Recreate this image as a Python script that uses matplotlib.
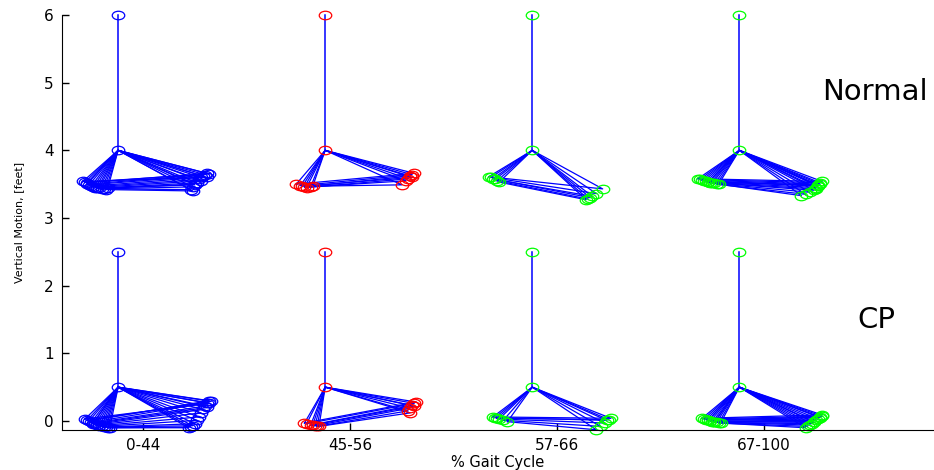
import numpy as np
import matplotlib.pyplot as plt
from matplotlib.path import Path
from matplotlib.transforms import Affine2D

# groups along the gait cycle
phases = ['0-44', '45-56', '57-66', '67-100']
phase_colors = ['#0000ff', '#ff0000', '#00ff00', '#00ff00']

# stick figure: head / hip heights
normal_head, normal_hip = 6.0, 4.0
cp_head, cp_hip = 2.5, 0.5
hip_dx = -0.12

# Normal: foot positions per frame (x offset from hip, height)
n1_lf_dx = [-0.17, -0.16, -0.15, -0.15, -0.14, -0.13, -0.12, -0.11, -0.10, -0.09, -0.08, -0.07, -0.06, -0.05]
n1_lf_y = [3.54, 3.53, 3.52, 3.50, 3.49, 3.47, 3.46, 3.45, 3.44, 3.44, 3.43, 3.43, 3.42, 3.44]
n1_rf_dx = [0.43, 0.44, 0.43, 0.42, 0.41, 0.40, 0.39, 0.40, 0.38, 0.37, 0.36, 0.35, 0.36, 0.37]
n1_rf_y = [3.60, 3.65, 3.66, 3.64, 3.62, 3.60, 3.57, 3.55, 3.52, 3.49, 3.46, 3.42, 3.40, 3.50]

n2_lf_dx = [-0.14, -0.12, -0.10, -0.09, -0.07, -0.06, -0.11]
n2_lf_y = [3.50, 3.48, 3.46, 3.45, 3.46, 3.47, 3.47]
n2_rf_dx = [0.43, 0.42, 0.41, 0.40, 0.39, 0.37, 0.42]
n2_rf_y = [3.66, 3.64, 3.62, 3.58, 3.55, 3.49, 3.60]

n3_lf_dx = [-0.21, -0.20, -0.19, -0.17, -0.16, -0.18]
n3_lf_y = [3.61, 3.60, 3.58, 3.55, 3.53, 3.57]
n3_rf_dx = [0.34, 0.31, 0.28, 0.27, 0.26, 0.29]
n3_rf_y = [3.43, 3.36, 3.30, 3.28, 3.27, 3.32]

n4_lf_dx = [-0.20, -0.19, -0.18, -0.17, -0.16, -0.15, -0.14, -0.13, -0.12, -0.11, -0.10, -0.15]
n4_lf_y = [3.58, 3.57, 3.56, 3.55, 3.54, 3.53, 3.52, 3.52, 3.51, 3.50, 3.50, 3.53]
n4_rf_dx = [0.40, 0.39, 0.39, 0.38, 0.38, 0.37, 0.37, 0.36, 0.34, 0.32, 0.30, 0.38]
n4_rf_y = [3.54, 3.52, 3.50, 3.48, 3.47, 3.45, 3.43, 3.41, 3.38, 3.35, 3.33, 3.49]

# CP
c1_lf_dx = [-0.16, -0.15, -0.14, -0.13, -0.12, -0.11, -0.10, -0.09, -0.08, -0.07, -0.06, -0.05, -0.04, -0.12]
c1_lf_y = [0.03, 0.01, 0.00, -0.02, -0.03, -0.05, -0.06, -0.07, -0.08, -0.09, -0.09, -0.10, -0.10, -0.04]
c1_rf_dx = [0.44, 0.45, 0.44, 0.43, 0.42, 0.41, 0.40, 0.39, 0.38, 0.37, 0.36, 0.35, 0.34, 0.43]
c1_rf_y = [0.26, 0.29, 0.30, 0.27, 0.22, 0.17, 0.12, 0.06, 0.01, -0.04, -0.07, -0.09, -0.10, 0.20]

c2_lf_dx = [-0.10, -0.09, -0.07, -0.05, -0.04, -0.03, -0.06]
c2_lf_y = [-0.03, -0.04, -0.06, -0.07, -0.08, -0.08, -0.06]
c2_rf_dx = [0.44, 0.43, 0.42, 0.41, 0.40, 0.41, 0.43]
c2_rf_y = [0.28, 0.26, 0.23, 0.19, 0.15, 0.12, 0.22]

c3_lf_dx = [-0.19, -0.18, -0.16, -0.14, -0.12, -0.17]
c3_lf_y = [0.06, 0.05, 0.03, 0.01, -0.01, 0.04]
c3_rf_dx = [0.38, 0.36, 0.35, 0.33, 0.31, 0.37]
c3_rf_y = [0.04, 0.01, -0.03, -0.08, -0.13, 0.02]

c4_lf_dx = [-0.18, -0.17, -0.16, -0.15, -0.14, -0.13, -0.12, -0.11, -0.10, -0.09, -0.15, -0.12]
c4_lf_y = [0.04, 0.03, 0.02, 0.01, 0.00, -0.01, -0.02, -0.02, -0.03, -0.03, 0.01, -0.01]
c4_rf_dx = [0.40, 0.40, 0.39, 0.38, 0.37, 0.36, 0.35, 0.34, 0.33, 0.32, 0.39, 0.36]
c4_rf_y = [0.09, 0.07, 0.05, 0.03, 0.01, -0.02, -0.04, -0.06, -0.08, -0.10, 0.06, -0.01]

normal_feet = [(n1_lf_dx, n1_lf_y, n1_rf_dx, n1_rf_y),
               (n2_lf_dx, n2_lf_y, n2_rf_dx, n2_rf_y),
               (n3_lf_dx, n3_lf_y, n3_rf_dx, n3_rf_y),
               (n4_lf_dx, n4_lf_y, n4_rf_dx, n4_rf_y)]
cp_feet = [(c1_lf_dx, c1_lf_y, c1_rf_dx, c1_rf_y),
           (c2_lf_dx, c2_lf_y, c2_rf_dx, c2_rf_y),
           (c3_lf_dx, c3_lf_y, c3_rf_dx, c3_rf_y),
           (c4_lf_dx, c4_lf_y, c4_rf_dx, c4_rf_y)]

# wide ellipse marker (the original is stretched sideways)
ellipse = Path.unit_circle().transformed(Affine2D().scale(1.0, 0.68))
line_blue = '#0000ff'

fig = plt.figure(figsize=(9.34, 4.70), dpi=100)
ax = fig.add_axes([62 / 934, 40 / 470, 872 / 934, 415 / 470])


def draw_figure(gx, head_y, hip_y, feet, mc):
    lf_dx, lf_y, rf_dx, rf_y = feet
    hx = gx + hip_dx
    ax.plot([hx, hx], [head_y, hip_y], color=line_blue, lw=1.1, clip_on=False)
    for a, b, c, d in zip(lf_dx, lf_y, rf_dx, rf_y):
        xs = [hx + a, hx, hx + c, hx + a]
        ys = [b, hip_y, d, b]
        ax.plot(xs, ys, color=line_blue, lw=0.9, clip_on=False)
    mk = dict(marker=ellipse, ms=9, ls='none', mfc='none', mec=mc, mew=0.9, clip_on=False)
    ax.plot([hx + v for v in lf_dx], lf_y, **mk)
    ax.plot([hx + v for v in rf_dx], rf_y, **mk)
    ax.plot([hx, hx], [head_y, hip_y], **mk)


for i in range(len(phases)):
    draw_figure(i + 1, normal_head, normal_hip, normal_feet[i], phase_colors[i])
    draw_figure(i + 1, cp_head, cp_hip, cp_feet[i], phase_colors[i])

ax.set_xlim(0.609, 4.82)
ax.set_ylim(-0.133, 6)
ax.set_xticks(range(1, len(phases) + 1))
ax.set_xticklabels(phases)
ax.set_yticks(range(0, 7))
ax.spines['top'].set_visible(False)
ax.spines['right'].set_visible(False)
ax.tick_params(direction='in', length=5, width=1, labelsize=11, pad=6)
ax.set_xlabel('% Gait Cycle', fontsize=10.5, labelpad=1)
ax.set_ylabel('Vertical Motion, [feet]', fontsize=8, labelpad=14)

ax.text(4.536, 4.86, 'Normal', fontsize=21, ha='center', va='center')
ax.text(4.54, 1.49, 'CP', fontsize=21, ha='center', va='center')

fig.savefig('out.png', dpi=100)
